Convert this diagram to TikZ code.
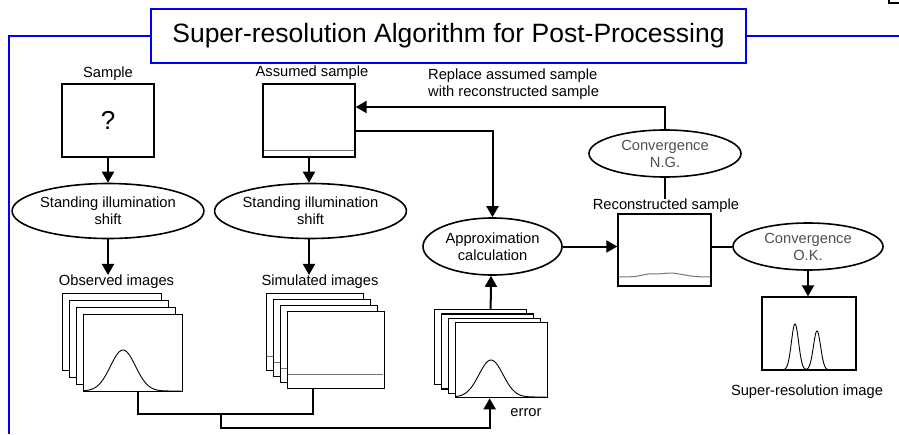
\documentclass[tikz,border=0pt]{standalone}
\usepackage{fontspec}
\setmainfont{Liberation Sans}
\usetikzlibrary{arrows.meta,shapes.geometric}
\definecolor{frameblue}{RGB}{0,0,245}
\definecolor{txtgray}{RGB}{80,80,80}
\definecolor{linegray}{RGB}{120,120,120}
\begin{document}
\begin{tikzpicture}[x=1pt,y=-1pt,
  lbl/.style={font=\fontsize{14.7}{17}\selectfont, inner sep=0pt, align=center},
  box/.style={draw=black, line width=1.3pt, fill=white, inner sep=0pt},
  ell/.style={draw=black, ellipse, line width=1.6pt, fill=white, inner sep=0pt,
    align=center, font=\fontsize{14.7}{17}\selectfont},
  conn/.style={draw=black, line width=2pt},
  arr/.style={-{Triangle[width=12pt,length=11pt]}},
  curve/.style={line width=0.9pt},
  glin/.style={draw=linegray, line width=1pt}
]
\useasboundingbox (0,0) rectangle (899,434);

% blue frame and title
\node[draw=frameblue, line width=2.8pt, fill=white, minimum width=595pt,
  minimum height=54pt, inner sep=0pt, font=\fontsize{26.5}{30}\selectfont]
  (title) at (448.5,36) {Super-resolution Algorithm for Post-Processing};
\draw[frameblue, line width=2.8pt] (9,434) -- (9,36) -- (title.west);
\draw[frameblue, line width=2.8pt] (title.east) -- (899,36);
% small corner fragment at top right
\draw[black, line width=1.6pt] (889,0) -- (889,3) -- (899,3);

% sample
\node[lbl] (samplelbl) at (108,74) {Sample};
\node[box, minimum width=92pt, minimum height=73pt,
  font=\fontsize{26}{30}\selectfont] (sample) at (108,120.5) {?};
% assumed sample
\node[lbl] (assumedlbl) at (312,73) {Assumed sample};
\node[box, minimum width=92pt, minimum height=73pt] (assumed) at (309,120.5) {};
\draw[glin] (263.7,150) -- (354.3,150);

% standing illumination shift ellipses
\node[ell, minimum width=184pt, minimum height=55pt] (ell1) at (108,211)
  {Standing illumination\\shift};
\node[ell, minimum width=180pt, minimum height=55pt] (ell2) at (310.5,211)
  {Standing illumination\\shift};

% labels
\node[lbl] (obslbl) at (116.5,282) {Observed images};
\node[lbl] (simlbl) at (320,282) {Simulated images};

% observed stack
\node[box, minimum width=99pt, minimum height=77pt, anchor=north west] (obs1) at (62,293) {};
\node[box, minimum width=99pt, minimum height=77pt, anchor=north west] (obs2) at (69,300) {};
\node[box, minimum width=99pt, minimum height=77pt, anchor=north west] (obs3) at (76,307) {};
\node[box, minimum width=99pt, minimum height=77pt, anchor=north west] (obs4) at (83,314) {};
\draw[curve] plot[domain=84:181,samples=80,smooth] (\x,{391-41*exp(-((\x-123)/12.5)^2/2)});

% simulated stack
\node[box, minimum width=97pt, minimum height=77pt, anchor=north west] (sim1) at (266,293) {};
\draw[glin] (266.7,356) -- (362.3,356);
\node[box, minimum width=97pt, minimum height=77pt, anchor=north west] (sim2) at (273,299) {};
\draw[glin] (273.7,362) -- (369.3,362);
\node[box, minimum width=97pt, minimum height=77pt, anchor=north west] (sim3) at (280,305) {};
\draw[glin] (280.7,368) -- (376.3,368);
\node[box, minimum width=97pt, minimum height=77pt, anchor=north west] (sim4) at (287,311) {};
\draw[glin] (287.7,374) -- (383.3,374);

% error stack
\node[box, minimum width=92pt, minimum height=75pt, anchor=north west] (err1) at (434,309) {};
\node[box, minimum width=92pt, minimum height=75pt, anchor=north west] (err2) at (441,313.3) {};
\node[box, minimum width=92pt, minimum height=75pt, anchor=north west] (err3) at (448,317.6) {};
\node[box, minimum width=92pt, minimum height=75pt, anchor=north west] (err4) at (455,322) {};
\draw[curve] plot[domain=456:546,samples=80,smooth] (\x,{397-37*exp(-((\x-491)/12)^2/2)});
\node[lbl] (errlbl) at (526,413) {error};

% approximation
\node[ell, minimum width=139pt, minimum height=57pt] (approx) at (492.5,246.5)
  {Approximation\\calculation};

% reconstructed sample
\node[lbl] (reconlbl) at (666,206) {Reconstructed sample};
\node[box, minimum width=93pt, minimum height=72pt] (recon) at (664.5,250) {};
\draw[linegray, line width=1pt] plot[smooth] coordinates {(618.7,277) (635,276.5) (648,274) (660,273.8) (672,273) (682,274.5) (695,276.5) (710.3,277)};

% convergence ellipses
\node[ell, minimum width=152pt, minimum height=47pt, text=txtgray] (ng) at (665,153.5)
  {Convergence\\N.G.};
\node[ell, minimum width=150pt, minimum height=47pt, text=txtgray] (ok) at (808,246.5)
  {Convergence\\O.K.};

% super-resolution image
\node[box, minimum width=94pt, minimum height=73pt] (sr) at (809,333.5) {};
\draw[curve] plot[domain=780:832,samples=160,smooth]
  (\x,{370-46*exp(-((\x-795)/3.6)^2/2)-39*exp(-((\x-817)/3.6)^2/2)});
\node[lbl] (srlbl) at (807,392) {Super-resolution image};

% replace label
\node[lbl, align=left, anchor=west] (replbl) at (428,84.5)
  {Replace assumed sample\\with reconstructed sample};

% connectors
\draw[conn, arr] (sample.south) -- (ell1.north -| sample.south);
\draw[conn, arr] (assumed.south) -- (ell2.north -| assumed.south);
\draw[conn, arr] (ell1.south -| sample.south) -- (obslbl.north -| sample.south);
\draw[conn, arr] (ell2.south -| assumed.south) -- (simlbl.north -| assumed.south);

\coordinate (jmid) at (221,413);
\draw[conn] ([xshift=4.5pt]obs4.south) -- ++(0,22) -| ([xshift=-23.5pt]sim4.south);
\draw[conn, arr] (jmid) -- (221,428) -| ([xshift=-12pt]err4.south);
\draw[conn, arr] ([xshift=10pt]err1.north) -- (approx.south -| 491,0);
\draw[conn, arr] ([yshift=-10.5pt]assumed.east) -| (approx.north);
\draw[conn, arr] (ng.north) |- ([yshift=13.5pt]assumed.east);
\draw[conn] (ng.south) -- (reconlbl.north -| ng.south);
\draw[conn, arr] (approx.east) -- (recon.west |- approx.east);
\draw[conn] (recon.east |- ok.west) -- (ok.west);
\draw[conn, arr] (ok.south) -- (sr.north -| ok.south);
\end{tikzpicture}
\end{document}
